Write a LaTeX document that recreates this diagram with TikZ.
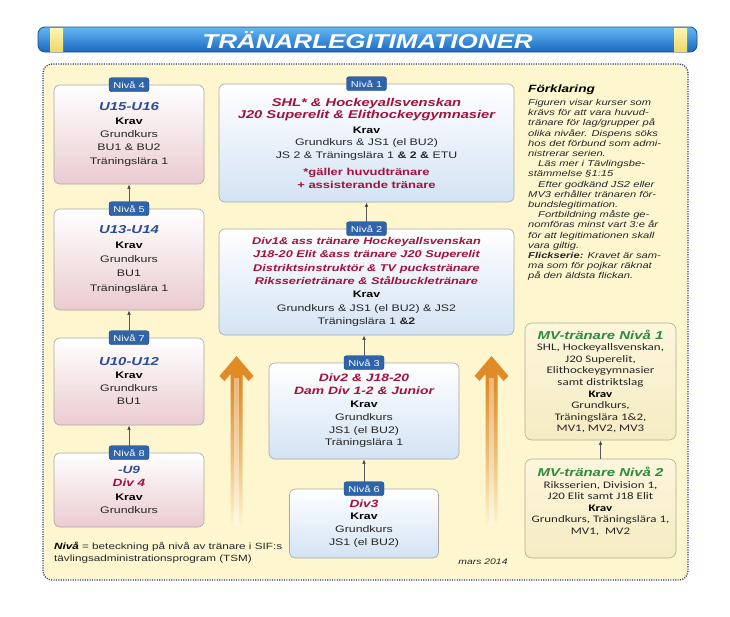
\documentclass[tikz,border=0pt]{standalone}
\usepackage{fontspec}
\setmainfont{Liberation Sans}[FakeStretch=1.3]
\newfontfamily\mvfont{Carlito}[FakeStretch=1.3]
\usetikzlibrary{arrows.meta}
\definecolor{bgY}{HTML}{FDF6CF}
\definecolor{dotB}{HTML}{2E3E78}
\definecolor{labB}{HTML}{2F63AA}
\definecolor{boxG}{HTML}{A8A8A8}
\definecolor{pinkB}{HTML}{EACBD0}
\definecolor{blueB}{HTML}{D3E3F4}
\definecolor{mvTop}{HTML}{FCF6DC}
\definecolor{mvBot}{HTML}{F5EBC2}
\definecolor{mvEdge}{HTML}{B5AD8C}
\definecolor{hdBlue}{HTML}{2C4D94}
\definecolor{hdRed}{HTML}{A3123C}
\definecolor{hdGreen}{HTML}{2F8A40}
\definecolor{txt}{HTML}{262626}
\definecolor{arrOr}{HTML}{E08B28}
\colorlet{arrMid}{arrOr!50!bgY}
\definecolor{barTop}{HTML}{62B8F4}
\definecolor{barBot}{HTML}{1C68C0}
\definecolor{barEdge}{HTML}{1A4E8C}
\definecolor{capTop}{HTML}{FFF6B8}
\definecolor{capBot}{HTML}{EDD866}
\pgfdeclareverticalshading{arrowfade}{100bp}{color(0bp)=(bgY); color(25bp)=(bgY); color(45bp)=(arrMid); color(67bp)=(arrOr); color(100bp)=(arrOr)}
\newcommand\hdblue[2][11.5]{{\fontsize{#1}{12}\selectfont\bfseries\itshape\color{hdBlue}#2}}
\newcommand\hdred[2][11.3]{{\fontsize{#1}{12}\selectfont\bfseries\itshape\color{hdRed}#2}}
\newcommand\redbold[1]{{\fontsize{10}{12}\selectfont\bfseries\color{hdRed}#1}}
\newcommand\hdgreen[1]{{\rmfamily\fontsize{11.5}{12}\selectfont\bfseries\itshape\color{hdGreen}#1}}
\newcommand\kravtxt{{\bfseries\color{black}Krav}}
\begin{document}
\begin{tikzpicture}[x=1pt,y=-1pt,
  lbox/.style={draw=boxG, line width=0.6pt, rounded corners=6pt, top color=white, bottom color=pinkB, minimum width=150pt, align=center, text=txt, inner sep=2pt},
  mbox/.style={draw=boxG, line width=0.6pt, rounded corners=6pt, top color=white, bottom color=blueB, align=center, text=txt, inner sep=2pt},
  mvbox/.style={draw=mvEdge, line width=0.6pt, rounded corners=7pt, top color=mvTop, bottom color=mvBot, minimum width=151pt, align=center, text=txt, inner sep=2pt, font=\mvfont\fontsize{10}{11.6}\selectfont},
  lab/.style={fill=labB, draw=labB!70!black, line width=0.4pt, rounded corners=2.5pt, text=white, font=\fontsize{8.5}{9}\selectfont, minimum width=40pt, minimum height=14pt, inner sep=1pt},
  conn/.style={draw=gray!70!black, line width=0.6pt, -{Latex[length=4.5pt,width=3.5pt,fill=black]}},
  bigarrow/.style={shading=arrowfade},
]
\useasboundingbox (0,0) rectangle (730,616);
\fill[white] (0,0) rectangle (730,616);
% frame
\draw[dotB, line width=1.3pt, dash pattern=on 1.1pt off 1.3pt, rounded corners=9pt, fill=bgY] (43,64) rectangle (688,580);
% title bar
\node[draw=barEdge, line width=0.8pt, rounded corners=7pt, top color=barTop, bottom color=barBot, minimum width=659pt, minimum height=25pt, inner sep=0pt] (title) at (367.5,39.5) {};
\node[top color=capTop, bottom color=capBot, minimum width=13pt, minimum height=23pt, inner sep=0pt] (capl) at (56.5,39.5) {};
\node[top color=capTop, bottom color=capBot, minimum width=13pt, minimum height=23pt, inner sep=0pt] (capr) at (680.5,39.5) {};
\node[text=white, font=\fontsize{20}{21}\selectfont\bfseries\itshape, inner sep=0pt] (ttext) at (367.5,40) {TRÄNARLEGITIMATIONER};

% big orange arrows
\foreach \ax in {236.5,491.5}{
  \shade[bigarrow, shift={(\ax,356)}] (0,0) -- (17,20) -- (12,25) -- (6,18) -- (6,170) -- (-6,170) -- (-6,18) -- (-12,25) -- (-17,20) -- cycle;
  \fill[white, fill opacity=0.4, shift={(\ax,356)}] (-2.2,22) rectangle (2.2,170);
}

% left column
\node[lbox, minimum height=99pt, font=\fontsize{9.5}{13.3}\selectfont] (n4) at (129,134.5) {\hdblue{U15-U16}\\ \kravtxt\\ Grundkurs\\ BU1 \& BU2\\ Träningslära 1};
\node[lab] (l4) at (n4.north) {Nivå 4};
\node[lbox, minimum height=101pt, font=\fontsize{9.5}{14.4}\selectfont] (n5) at (129,259.5) {\hdblue{U13-U14}\\ \kravtxt\\ Grundkurs\\ BU1\\ Träningslära 1};
\node[lab] (l5) at (n5.north) {Nivå 5};
\node[lbox, minimum height=87pt, font=\fontsize{9.5}{13}\selectfont] (n7) at (129,381.5) {\hdblue{U10-U12}\\ \kravtxt\\ Grundkurs\\ BU1};
\node[lab] (l7) at (n7.north) {Nivå 7};
\node[lbox, minimum height=74pt, font=\fontsize{9.5}{13.3}\selectfont] (n8) at (129,490) {\hdblue[10.5]{-U9}\\ \hdred[10.5]{Div 4}\\ \kravtxt\\ Grundkurs};
\node[lab] (l8) at (n8.north) {Nivå 8};

% middle column
\node[mbox, minimum width=295pt, minimum height=118pt, font=\fontsize{9.5}{12.5}\selectfont] (n1) at (366.5,143) {\hdred{SHL* \& Hockeyallsvenskan}\\ \hdred{J20 Superelit \& Elithockeygymnasier}\\[2pt] \kravtxt\\ Grundkurs \& JS1 (el BU2)\\ JS 2 \& Träningslära 1 \textbf{\& 2 \&} ETU\\[5pt] \redbold{*gäller huvudtränare}\\ \redbold{+ assisterande tränare}};
\node[lab] (l1) at (n1.north) {Nivå 1};
\node[mbox, minimum width=295pt, minimum height=106pt, font=\fontsize{9.5}{13.3}\selectfont] (n2) at (366.5,282) {\hdred[9.8]{Div1\& ass tränare Hockeyallsvenskan}\\ \hdred[9.8]{J18-20 Elit \&ass tränare J20 Superelit}\\ \hdred[9.8]{Distriktsinstruktör \& TV puckstränare}\\ \hdred[9.8]{Riksserietränare \& Stålbuckletränare}\\ \kravtxt\\ Grundkurs \& JS1 (el BU2) \& JS2\\ Träningslära 1 \textbf{\&2}};
\node[lab] (l2) at (n2.north) {Nivå 2};
\node[mbox, minimum width=190pt, minimum height=96pt, font=\fontsize{9.5}{12.8}\selectfont] (n3) at (364,411) {\hdred[10.7]{Div2 \& J18-20}\\ \hdred[10.7]{Dam Div 1-2 \& Junior}\\ \kravtxt\\ Grundkurs\\ JS1 (el BU2)\\ Träningslära 1};
\node[lab] (l3) at (n3.north) {Nivå 3};
\node[mbox, minimum width=149pt, minimum height=69pt, font=\fontsize{9.5}{12.7}\selectfont] (n6) at (364,523.5) {\hdred[10.5]{Div3}\\ \kravtxt\\ Grundkurs\\ JS1 (el BU2)};
\node[lab] (l6) at (n6.north) {Nivå 6};

% right column
\node[anchor=west, inner sep=0pt, font=\fontsize{10.5}{12}\selectfont\bfseries\itshape] (fhead) at (528,90) {Förklaring};
\node[anchor=north west, inner sep=0pt, align=left, text=txt, font=\fontsize{8.6}{10.2}\selectfont\itshape] (expl) at (528,99) {Figuren visar kurser som\\ krävs för att vara huvud-\\ tränare för lag/grupper på\\ olika nivåer. Dispens söks\\ hos det förbund som admi-\\ nistrerar serien.\\ \hspace*{10pt}Läs mer i Tävlingsbe-\\ stämmelse §1:15\\ \hspace*{10pt}Efter godkänd JS2 eller\\ MV3 erhåller tränaren för-\\ bundslegitimation.\\ \hspace*{10pt}Fortbildning måste ge-\\ nomföras minst vart 3:e år\\ för att legitimationen skall\\ vara giltig.\\ \textbf{Flickserie:} Kravet är sam-\\ ma som för pojkar räknat\\ på den äldsta flickan.};
\node[mvbox, minimum height=117pt] (mv1) at (600.5,381.5) {\hdgreen{MV-tränare Nivå 1}\\ SHL, Hockeyallsvenskan,\\ J20 Superelit,\\ Elithockeygymnasier\\ samt distriktslag\\ \kravtxt\\ Grundkurs,\\ Träningslära 1\&2,\\ MV1, MV2, MV3};
\node[mvbox, minimum height=99pt] (mv2) at (600.5,508.5) {\hdgreen{MV-tränare Nivå 2}\\ Riksserien, Division 1,\\ J20 Elit samt J18 Elit\\ \kravtxt\\ Grundkurs, Träningslära 1,\\ MV1,\ \ MV2\\[4pt]};

% connectors
\draw[conn] (l5.north) -- (n4.south);
\draw[conn] (l7.north) -- (n5.south);
\draw[conn] (l8.north) -- (n7.south);
\draw[conn] (l2.north) -- (l2.north |- n1.south);
\draw[conn] (l3.north) -- (l3.north |- n2.south);
\draw[conn] (l6.north) -- (n3.south);
\draw[conn] (mv2.north) -- (mv1.south);

% footnotes
\node[anchor=north west, inner sep=0pt, align=left, text=txt, font=\fontsize{9}{11.5}\selectfont] (fn) at (54,542) {{\color{black}\bfseries\itshape Nivå} = beteckning på nivå av tränare i SIF:s\\ tävlingsadministrationsprogram (TSM)};
\node[inner sep=0pt, text=txt, font=\fontsize{8}{9}\selectfont\itshape] (date) at (483,562) {mars 2014};
\end{tikzpicture}
\end{document}
